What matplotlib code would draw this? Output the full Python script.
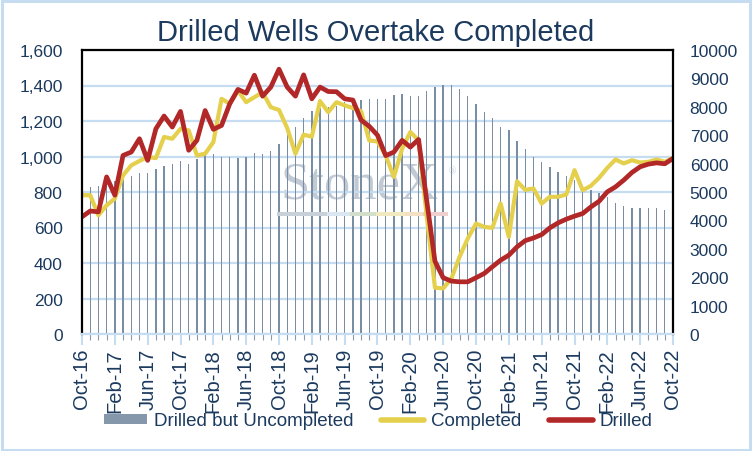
import numpy as np
import pandas as pd
import matplotlib.pyplot as plt
from matplotlib.patches import Rectangle, Patch
from matplotlib.lines import Line2D
from matplotlib.ticker import FuncFormatter

plt.rcParams['font.family'] = ['Liberation Sans', 'DejaVu Sans']

# monthly, Oct-16 .. Oct-22
months = pd.date_range('2016-10-01', '2022-10-01', freq='MS')
tick_labels = ['Oct-16', 'Feb-17', 'Jun-17', 'Oct-17', 'Feb-18', 'Jun-18', 'Oct-18',
               'Feb-19', 'Jun-19', 'Oct-19', 'Feb-20', 'Jun-20', 'Oct-20', 'Feb-21',
               'Jun-21', 'Oct-21', 'Feb-22', 'Jun-22', 'Oct-22']

# drilled but uncompleted (right axis)
duc = [5150, 5190, 5220, 5250, 5400, 5560, 5580, 5670, 5670, 5810, 5930, 5990, 6100,
       6000, 6150, 6300, 6340, 6220, 6220, 6210, 6230, 6370, 6340, 6440, 6690, 7250,
       7300, 7620, 7840, 7950, 8000, 8040, 8160, 8160, 8240, 8275, 8275, 8275, 8415,
       8450, 8390, 8390, 8560, 8690, 8775, 8775, 8630, 8370, 8100, 7830, 7600, 7280,
       7190, 6810, 6514, 6244, 6068, 5892, 5716, 5575, 5434, 5223, 5070, 4953, 4812,
       4613, 4518, 4448, 4448, 4437, 4437, 4378, 4378]

completed = [782, 782, 669, 725, 763, 894, 950, 975, 997, 991, 1110, 1100, 1156, 1147,
             1006, 1016, 1081, 1325, 1297, 1372, 1306, 1334, 1362, 1278, 1262, 1160,
             1016, 1123, 1112, 1312, 1250, 1306, 1288, 1273, 1255, 1090, 1085, 1005,
             885, 1044, 1138, 1091, 662, 261, 257, 313, 435, 538, 622, 604, 598, 735,
             547, 860, 812, 820, 735, 773, 773, 786, 923, 810, 835, 880, 936, 983, 961,
             979, 966, 970, 983, 970, 992]

drilled = [660, 693, 688, 885, 782, 1006, 1025, 1100, 978, 1156, 1228, 1166, 1254, 1035,
           1091, 1259, 1153, 1175, 1297, 1378, 1357, 1458, 1340, 1391, 1492, 1391, 1340,
           1460, 1325, 1391, 1366, 1365, 1325, 1318, 1205, 1170, 1120, 1005, 1025, 1091,
           1053, 1096, 750, 410, 317, 298, 294, 294, 317, 341, 379, 416, 444, 491, 526,
           541, 560, 598, 626, 647, 664, 679, 716, 748, 801, 829, 867, 910, 942, 957, 964,
           959, 989]

navy = '#1B3A5E'
grid_blue = '#C5DCF1'
c_duc = '#7A8EA3'
c_comp = '#E4D04C'
c_drill = '#B22828'

fig = plt.figure(figsize=(7.52, 4.52), dpi=100)
ax = fig.add_axes([82 / 752, 117 / 452, 591 / 752, 284 / 452])
ax2 = ax.twinx()
ax.set_zorder(ax2.get_zorder() + 1)
ax.patch.set_visible(False)

x = np.arange(len(months))

# watermark behind the bars
ax2.text(0.47, 0.482, 'StoneX', transform=ax2.transAxes, ha='center', va='baseline',
         fontsize=38, family='Liberation Serif', color='#C1CAD4', zorder=0)
ax2.text(0.626, 0.575, '®', transform=ax2.transAxes, ha='center', va='center',
         fontsize=7, family='Liberation Serif', color='#C1CAD4', zorder=0)
wm_segments = [(277, 327, '#C8D0DA'), (327, 350, '#DAE6F1'), (350, 376, '#D2DFCB'),
               (376, 405, '#F1E9C0'), (405, 423, '#F4E1C5'), (423, 448, '#F0CFCF')]
for x0, x1, col in wm_segments:
    fig.add_artist(Rectangle((x0 / 752, 1 - 217 / 452), (x1 - x0) / 752, 4 / 452,
                             transform=fig.transFigure, color=col, lw=0, zorder=0.5))

ax2.bar(x, duc, width=0.17, color=c_duc, zorder=2)
ax2.set_ylim(0, 10000)
ax2.set_yticks(range(0, 10001, 1000))

ax.plot(x, completed, color=c_comp, lw=3.0, solid_joinstyle='round', solid_capstyle='round')
ax.plot(x, drilled, color=c_drill, lw=3.4, solid_joinstyle='round', solid_capstyle='round')
ax.set_ylim(0, 1600)
ax.set_yticks(range(0, 1601, 200))
ax.yaxis.set_major_formatter(FuncFormatter(lambda v, p: f'{v:,.0f}'))
ax.set_xlim(0, len(months) - 1)

# gridlines on the back axis so they sit under the bars
for v in ax.get_yticks():
    ax2.axhline(v * 10000 / 1600, color=grid_blue, lw=1.6, zorder=1)

ax.set_xticks(x[::4])
ax.set_xticklabels(tick_labels, rotation=90)
ax.set_xticks(x, minor=True)
ax.tick_params(axis='x', which='major', length=8, width=1.5, color=grid_blue,
               labelsize=14.5, labelcolor=navy, pad=2)
ax.tick_params(axis='x', which='minor', length=4, width=0.8, color='#8C9BAA')
ax.tick_params(axis='y', length=0, labelsize=12.5, labelcolor=navy, pad=14)
ax2.tick_params(axis='y', length=0, labelsize=12.5, labelcolor=navy, pad=12)

for s in ['left', 'top', 'right']:
    ax.spines[s].set_color('black')
    ax.spines[s].set_linewidth(1.6)
ax.spines['bottom'].set_color(grid_blue)
ax.spines['bottom'].set_linewidth(1.6)
for s in ax2.spines.values():
    s.set_visible(False)

fig.text(376 / 752, 1 - 33 / 452, 'Drilled Wells Overtake Completed', ha='center',
         va='center', fontsize=21, color=navy)

handles = [Patch(facecolor='#8497AB', edgecolor='none'),
           Line2D([], [], color=c_comp, lw=4, solid_capstyle='round'),
           Line2D([], [], color=c_drill, lw=4, solid_capstyle='round')]
fig.legend(handles, ['Drilled but Uncompleted', 'Completed', 'Drilled'], loc='center',
           bbox_to_anchor=(378 / 752, 1 - 422 / 452), ncol=3, frameon=False,
           fontsize=13.5, labelcolor=navy, handlelength=2.3, handleheight=0.45,
           handletextpad=0.35, columnspacing=1.5)

fig.add_artist(Rectangle((0.002, 0.003), 0.995, 0.993, transform=fig.transFigure,
                         fill=False, ec=grid_blue, lw=2.2))

fig.savefig('out.png', dpi=100)
